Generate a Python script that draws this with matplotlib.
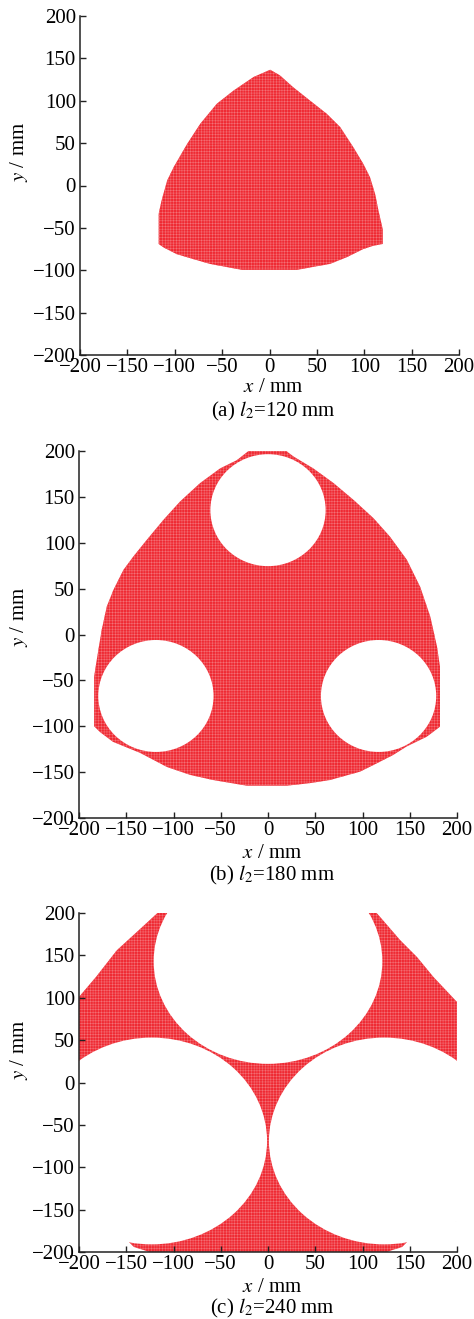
import matplotlib
matplotlib.use("Agg")
import matplotlib.pyplot as plt
from matplotlib.patches import Polygon, Circle

plt.rcParams['font.family'] = ['Liberation Serif', 'DejaVu Serif']
plt.rcParams['mathtext.fontset'] = 'stix'
plt.rcParams['hatch.linewidth'] = 0.35

# ---- data (mm) ----
tick_values = [-200, -150, -100, -50, 0, 50, 100, 150, 200]
panel_letters = ["a", "b", "c"]
l2_values = [120, 180, 240]

# (a) l2 = 120 mm : boundary of the reachable region
a_x = [0.7, -16.9, -38, -55.6, -73, -87, -101, -108, -112, -114, -117, -117,
       -112, -98, -80, -63, -29, 29, 46.4, 64, 81.6, 99, 110, 119.6, 119.6,
       115, 111.5, 106, 99, 88.6, 74.6, 60.5, 43, 25, 11]
a_y = [136.6, 128, 112, 96.5, 73, 49, 22, 6, -10, -18, -33.5, -69,
       -73, -81, -87, -92.5, -99.6, -99.6, -96, -92.5, -84.6, -75, -71, -69, -52,
       -29.5, -10, 10, 25.6, 45, 69, 84.6, 100, 116, 130]

# (b) l2 = 180 mm : outer boundary and circular voids
b_x = [-20.6, 19.3, 27, 48, 69.4, 90.6, 111.7, 129, 147, 161, 171.7, 178.8, 182,
       182, 168, 146.8, 132.3, 115, 97.4, 65.6, 44.4, 20, -22.4, -58.2, -82.5,
       -106.9, -135.4, -164, -177.8, -184, -184, -179.5, -176, -170.6, -163.6,
       -153, -142.5, -128.4, -110.7, -93, -71.9, -50.7, -33]
b_y = [200, 200, 194, 181, 165, 146.6, 126.7, 106.7, 81.3, 52, 19.6, -13, -35,
       -100.5, -111.4, -122, -131.4, -140.5, -149.5, -158.6, -162, -164.8, -164.8,
       -158.6, -153, -144.4, -129, -117, -106.3, -100, -45.7, -16.7, 5, 30.5, 48.6,
       70.4, 85, 103, 124.9, 145, 165, 181, 190]
b_hole_x = [0, -118.6, 117]
b_hole_y = [135.5, -67, -67]
b_hole_r = [61, 61, 61]

# (c) l2 = 240 mm : outer boundary (extends past the plotted square) and voids
c_x = [-117, -135, -160, -182, -200, -230, -230, -200, -175, -150, -142, -128,
       -115, -100, 100, 115, 128, 142, 150, 175, 200, 230, 230, 200, 175, 157.7,
       140, 115, 110, -110]
c_y = [200, 181.5, 156, 124.6, 101, 60, -150, -163, -175, -185, -194, -199,
       -205, -230, -230, -205, -199, -194, -185, -175, -163, -150, 60, 95, 124.6,
       148, 167.8, 200, 230, 230]
c_hole_x = [0, -123, 123]
c_hole_y = [143, -69, -69]
c_hole_r = [121, 122, 122]

# ---- figure ----
W, H = 474, 1319
fig = plt.figure(figsize=(W / 100, H / 100), dpi=100)

# axes boxes in pixels: left, top, right, bottom
boxes = [(80, 16, 459, 355), (79, 451, 457, 818), (79, 913, 457, 1252)]
xlabel_y = [388, 853, 1287]
caption_y = [411, 875, 1308]
ylabel_y = [152, 617, 1050]

outer = [(a_x, a_y), (b_x, b_y), (c_x, c_y)]
holes = [([], [], []), (b_hole_x, b_hole_y, b_hole_r), (c_hole_x, c_hole_y, c_hole_r)]

fill_col = '#ef2a33'
hatch_col = '#f47379'
fs = 15
tfs = 15

for i, (l, t, r, b) in enumerate(boxes):
    ax = fig.add_axes([l / W, 1 - b / H, (r - l) / W, (b - t) / H])
    xs, ys = outer[i]
    poly = Polygon(list(zip(xs, ys)), closed=True, facecolor=fill_col,
                   edgecolor=hatch_col, linewidth=0, hatch='++++++', zorder=1)
    ax.add_patch(poly)
    hx, hy, hr = holes[i]
    for cx_, cy_, rr in zip(hx, hy, hr):
        ax.add_patch(Circle((cx_, cy_), rr, facecolor='white', edgecolor='none',
                            zorder=1.5))
    ax.set_xlim(-200, 200)
    ax.set_ylim(-200, 200)
    ax.set_xticks(tick_values)
    ax.set_yticks(tick_values)
    for s in ['top', 'right']:
        ax.spines[s].set_visible(False)
    for s in ['left', 'bottom']:
        ax.spines[s].set_linewidth(1.1)
        ax.spines[s].set_color('#222222')
    ax.tick_params(direction='in', length=4.5, width=1.0, colors='#222222',
                   labelsize=tfs, labelcolor='black')
    ax.tick_params(axis='x', pad=2)
    ax.tick_params(axis='y', pad=3)

    cxp = (l + r) / 2 + 4
    fig.text(cxp / W, 1 - xlabel_y[i] / H, '$x$ / mm', ha='center', va='center',
             fontsize=fs)
    fig.text(cxp / W, 1 - caption_y[i] / H,
             '(%s) $l_2$=%d mm' % (panel_letters[i], l2_values[i]),
             ha='center', va='center', fontsize=fs)
    fig.text(19 / W, 1 - ylabel_y[i] / H, '$y$ / mm', ha='center', va='center',
             rotation=90, fontsize=fs)

fig.savefig('out.png', dpi=100)
